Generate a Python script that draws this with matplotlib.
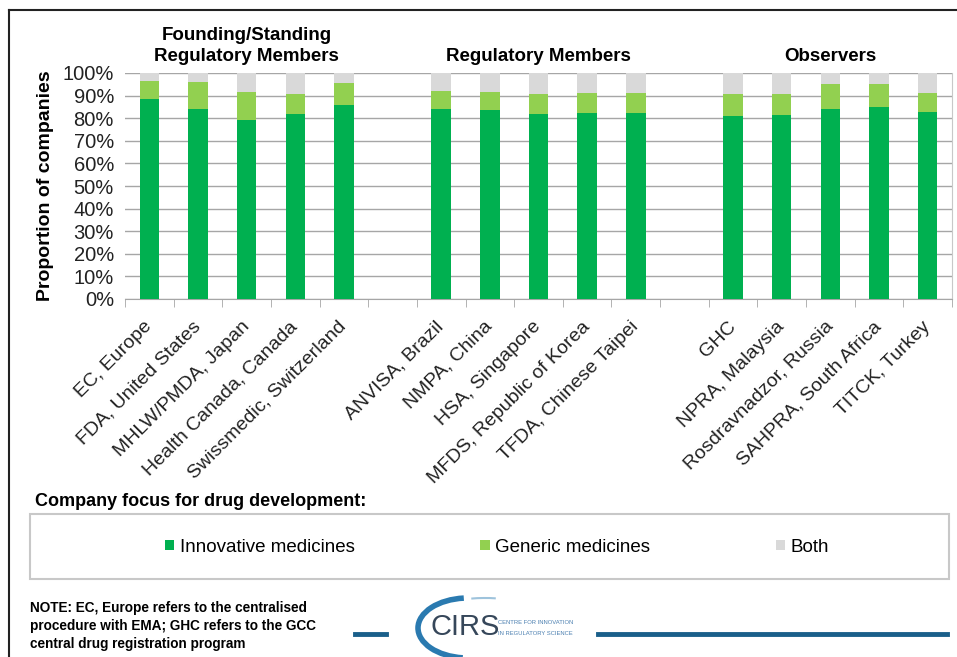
import numpy as np
import matplotlib.pyplot as plt
from matplotlib.patches import Rectangle, Arc
from matplotlib.lines import Line2D

plt.rcParams['font.family'] = ['Liberation Sans', 'DejaVu Sans']

# data (percent of companies)
groups = ['Founding/Standing\nRegulatory Members', 'Regulatory Members', 'Observers']
agencies = [
    ['EC, Europe', 'FDA, United States', 'MHLW/PMDA, Japan', 'Health Canada, Canada', 'Swissmedic, Switzerland'],
    ['ANVISA, Brazil', 'NMPA, China', 'HSA, Singapore', 'MFDS, Republic of Korea', 'TFDA, Chinese Taipei'],
    ['GHC', 'NPRA, Malaysia', 'Rosdravnadzor, Russia', 'SAHPRA, South Africa', 'TITCK, Turkey'],
]
innovative = [88.3, 83.9, 79.2, 81.7, 85.8,
              83.9, 83.5, 81.7, 82.4, 82.4,
              80.9, 81.5, 83.9, 84.8, 82.6]
generic = [8.2, 12.1, 12.5, 9.0, 9.6,
           8.1, 8.1, 9.0, 8.6, 8.6,
           9.6, 9.0, 11.1, 10.2, 8.4]
both = [100 - a - b for a, b in zip(innovative, generic)]

c_inn = '#00B050'
c_gen = '#92D050'
c_both = '#D9D9D9'

W, H = 957, 657
fig = plt.figure(figsize=(W / 100, H / 100), dpi=100)

def fx(px):
    return px / W

def fy(py):
    return 1 - py / H

ax = fig.add_axes([fx(125), fy(299), fx(952) - fx(125), fy(73) - fy(299)])

# positions: one blank slot between groups
x = []
labels = []
for g, names in enumerate(agencies):
    for i, n in enumerate(names):
        x.append(g * 6 + i)
        labels.append(n)
x = np.array(x)
inn = np.array(innovative)
gen = np.array(generic)
bth = np.array(both)

bw = 0.4
ax.bar(x, inn, bw, color=c_inn, zorder=3, label='Innovative medicines')
ax.bar(x, gen, bw, bottom=inn, color=c_gen, zorder=3, label='Generic medicines')
ax.bar(x, bth, bw, bottom=inn + gen, color=c_both, zorder=3, label='Both')

ax.set_xlim(-0.5, 16.5)
ax.set_ylim(0, 100)
ax.set_yticks(np.arange(0, 101, 10))
ax.set_yticklabels(['%d%%' % v for v in range(0, 101, 10)], fontsize=14.5, color='#222222')
ax.yaxis.grid(True, color='#a6a6a6', lw=1, zorder=0)
ax.tick_params(axis='y', length=0, pad=8)

ax.set_xticks(x)
ax.set_xticklabels(labels, rotation=45, ha='right', va='center', rotation_mode='anchor',
                   fontsize=14, color='#222222')
ax.tick_params(axis='x', length=0, pad=18)
ax.set_xticks(np.arange(-0.5, 17, 1), minor=True)
ax.tick_params(axis='x', which='minor', length=6, color='#a6a6a6', direction='out')

for s in ['top', 'left']:
    ax.spines[s].set_visible(False)
ax.spines['bottom'].set_color('#a6a6a6')
ax.spines['right'].set_color('#c8c8c8')

ax.set_ylabel('Proportion of companies', fontsize=14, fontweight='bold', labelpad=6)

# group titles
for g, name in enumerate(groups):
    xc = g * 6 + 2
    ax.text(xc, 1.035, name, transform=ax.get_xaxis_transform(), ha='center', va='bottom',
            fontsize=13.5, fontweight='bold', linespacing=1.3)

# legend
fig.text(fx(35), fy(502), 'Company focus for drug development:', fontsize=13, fontweight='bold',
         ha='left', va='center')
fig.patches.append(Rectangle((fx(30), fy(579)), fx(949) - fx(30), fy(514) - fy(579),
                             transform=fig.transFigure, fill=False, edgecolor='#c8c8c8', lw=1.5))
handles, hl = ax.get_legend_handles_labels()
fig.legend(handles, hl, loc='center', bbox_to_anchor=(fx(497), fy(547)), ncol=3, frameon=False,
           fontsize=13.5, handlelength=0.5, handleheight=0.5, handletextpad=0.3, columnspacing=6.7)

# note
fig.text(fx(30), fy(626), 'NOTE: EC, Europe refers to the centralised\nprocedure with EMA; GHC refers to the GCC\ncentral drug registration program',
         fontsize=9.8, fontweight='bold', ha='left', va='center', linespacing=1.4)

# logo and rules
blue = '#1a5f8a'
fig.add_artist(Line2D([fx(355), fx(386)], [fy(634), fy(634)], color=blue, lw=3.5))
fig.add_artist(Line2D([fx(598), fx(947)], [fy(634), fy(634)], color=blue, lw=3.5))
lax = fig.add_axes([fx(400), fy(657), fx(600) - fx(400), fy(595) - fy(657)])
lax.set_xlim(400, 600)
lax.set_ylim(657, 595)
lax.axis('off')
lax.add_patch(Arc((468, 628), 100, 60, theta1=100, theta2=262, color='#2a7ab0', lw=4))
lax.add_patch(Arc((480, 630), 130, 60, theta1=62, theta2=100, color='#2a7ab0', lw=1.5))
lax.add_patch(Arc((485, 628), 140, 60, theta1=245, theta2=290, color='#9ec3dc', lw=1.5))
lax.text(430, 627, 'CIRS', fontsize=21, color='#36475a', ha='left', va='center')
lax.text(498, 622, 'CENTRE FOR INNOVATION', fontsize=4.2, color='#4a7fb0', ha='left', va='center')
lax.text(498, 633, 'IN REGULATORY SCIENCE', fontsize=4.2, color='#4a7fb0', ha='left', va='center')

# outer frame (top and left edges)
fig.add_artist(Line2D([fx(9), fx(957)], [fy(9.5), fy(9.5)], color='#222222', lw=1.5))
fig.add_artist(Line2D([fx(9), fx(9)], [fy(9.5), fy(657)], color='#222222', lw=1.5))

fig.savefig('out.png', dpi=100)
